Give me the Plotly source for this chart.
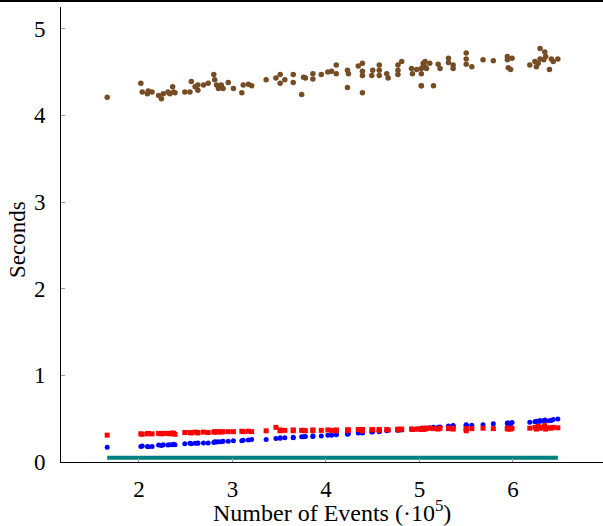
import plotly.graph_objects as go

# Number of events (x 10^5)
events = [1.66, 2.02, 2.035, 2.09, 2.10, 2.14, 2.21, 2.24, 2.26, 2.31, 2.33, 2.36, 2.37, 2.385,
          2.49, 2.545, 2.56, 2.60, 2.63, 2.63, 2.69, 2.74,
          2.80, 2.81, 2.83, 2.85, 2.88, 2.90, 2.955, 3.01, 3.10, 3.115, 3.17, 3.205,
          3.36, 3.465, 3.51, 3.51, 3.56, 3.65, 3.65, 3.74, 3.76, 3.78, 3.86, 3.86, 3.95,
          4.02, 4.06, 4.11, 4.11, 4.23, 4.23, 4.24, 4.345, 4.39, 4.39, 4.39, 4.39, 4.49, 4.50,
          4.57, 4.57, 4.57, 4.65, 4.665, 4.77, 4.77, 4.77, 4.81, 4.915, 4.925, 4.97,
          5.02, 5.02, 5.04, 5.06, 5.06, 5.04, 5.075, 5.02, 5.11, 5.02, 5.15, 5.20, 5.22,
          5.31, 5.31, 5.36, 5.36, 5.50, 5.50, 5.50, 5.56, 5.68, 5.79,
          5.94, 5.94, 5.99, 5.95, 5.975,
          6.18, 6.235, 6.25, 6.29, 6.29, 6.33, 6.34, 6.35, 6.39, 6.41, 6.43, 6.48, 6.27]

brown_sec = [4.21, 4.37, 4.27, 4.25, 4.28, 4.27, 4.23, 4.19, 4.25, 4.27, 4.25, 4.33, 4.27, 4.26,
             4.27, 4.27, 4.39, 4.33, 4.35, 4.29, 4.35, 4.37,
             4.47, 4.41, 4.35, 4.31, 4.35, 4.31, 4.38, 4.31, 4.26, 4.35, 4.36, 4.34,
             4.41, 4.43, 4.47, 4.37, 4.41, 4.47, 4.38, 4.24, 4.44, 4.43, 4.48, 4.42, 4.47,
             4.50, 4.51, 4.58, 4.48, 4.52, 4.32, 4.48, 4.57, 4.60, 4.51, 4.46, 4.26, 4.46, 4.52,
             4.58, 4.52, 4.46, 4.48, 4.43, 4.58, 4.52, 4.47, 4.62, 4.54, 4.48, 4.53,
             4.54, 4.34, 4.60, 4.56, 4.62, 4.56, 4.54, 4.48, 4.60, 4.34, 4.34, 4.59, 4.54,
             4.66, 4.61, 4.58, 4.54, 4.72, 4.65, 4.59, 4.56, 4.64, 4.63,
             4.68, 4.64, 4.66, 4.55, 4.53,
             4.58, 4.62, 4.56, 4.77, 4.65, 4.64, 4.73, 4.68, 4.53, 4.65, 4.62, 4.65, 4.60]

blue_sec = [0.17,
            0.18, 0.185, 0.18, 0.175, 0.18, 0.195, 0.19, 0.20, 0.195, 0.20, 0.20, 0.205, 0.20,
            0.21, 0.215, 0.21, 0.215, 0.22, 0.215, 0.22, 0.22,
            0.225, 0.235, 0.23, 0.235, 0.235, 0.24, 0.24, 0.245, 0.245, 0.25, 0.255, 0.26,
            0.26, 0.27, 0.28, 0.275, 0.28, 0.285, 0.28, 0.29, 0.29, 0.295, 0.30, 0.295, 0.30,
            0.31, 0.31, 0.32, 0.315, 0.325, 0.32, 0.33, 0.335, 0.34, 0.335, 0.34, 0.34, 0.345, 0.35,
            0.355, 0.35, 0.36, 0.36, 0.365, 0.37, 0.365, 0.375, 0.37, 0.38, 0.375, 0.38,
            0.385, 0.38, 0.39, 0.385, 0.39, 0.385, 0.39, 0.39, 0.395, 0.385, 0.40, 0.40, 0.405,
            0.41, 0.415, 0.415, 0.42, 0.42, 0.43, 0.425, 0.425, 0.43, 0.44,
            0.445, 0.45, 0.455, 0.45, 0.44,
            0.46, 0.465, 0.47, 0.48, 0.47, 0.475, 0.485, 0.48, 0.475, 0.48, 0.49, 0.495, 0.47]

red_sec = [0.31,
           0.325, 0.32, 0.325, 0.33, 0.325, 0.33, 0.325, 0.33, 0.33, 0.325, 0.335, 0.33, 0.32,
           0.34, 0.34, 0.335, 0.345, 0.34, 0.335, 0.345, 0.34,
           0.345, 0.35, 0.345, 0.35, 0.345, 0.35, 0.35, 0.35, 0.355, 0.35, 0.355, 0.35,
           0.36, 0.40, 0.37, 0.36, 0.365, 0.37, 0.36, 0.365, 0.365, 0.36, 0.37, 0.36, 0.365,
           0.37, 0.365, 0.37, 0.36, 0.37, 0.365, 0.37, 0.375, 0.37, 0.365, 0.375, 0.36, 0.37, 0.375,
           0.37, 0.375, 0.365, 0.375, 0.37, 0.38, 0.375, 0.37, 0.38, 0.38, 0.375, 0.38,
           0.385, 0.375, 0.39, 0.38, 0.385, 0.375, 0.39, 0.38, 0.39, 0.38, 0.385, 0.38, 0.39,
           0.385, 0.39, 0.38, 0.39, 0.385, 0.36, 0.38, 0.385, 0.39, 0.385,
           0.39, 0.385, 0.39, 0.38, 0.38,
           0.39, 0.40, 0.38, 0.40, 0.39, 0.395, 0.42, 0.38, 0.395, 0.39, 0.40, 0.395, 0.41]

teal_x = [1.66, 6.48]
teal_sec = [0.05, 0.05]

x_ticks = [2, 3, 4, 5, 6]
y_ticks = [0, 1, 2, 3, 4, 5]

x_title = "Number of Events (·10<sup>5</sup>)"
y_title = "Seconds"

FONT = "Liberation Serif"
W, H = 603, 526
L, R, T, B = 61, 0, 7, 64
PW, PH = W - L - R, H - T - B

fig = go.Figure()
fig.add_trace(go.Scatter(x=events, y=blue_sec, mode="markers",
                         marker=dict(symbol="circle", size=5, color="#0000ff", line=dict(width=0))))
fig.add_trace(go.Scatter(x=events, y=red_sec, mode="markers",
                         marker=dict(symbol="square", size=5, color="#ff0000", line=dict(width=0))))
fig.add_trace(go.Scatter(x=events, y=brown_sec, mode="markers",
                         marker=dict(symbol="circle", size=5.5, color="#754c24", line=dict(width=0))))
fig.add_trace(go.Scatter(x=teal_x, y=teal_sec, mode="lines",
                         line=dict(color="#008080", width=4)))

axis_common = dict(showgrid=False, zeroline=False, showline=True, linecolor="black", linewidth=1,
                   ticks="inside", ticklen=4, tickcolor="#999999", tickwidth=1,
                   tickfont=dict(family=FONT, size=23, color="black"), automargin=False)

fig.update_layout(
    width=W, height=H,
    margin=dict(l=L, r=R, t=T, b=B, autoexpand=False),
    paper_bgcolor="white", plot_bgcolor="white",
    showlegend=False,
    font=dict(family=FONT, size=23, color="black"),
    xaxis=dict(range=[1.166, 6.963], tickvals=x_ticks, ticktext=[str(v) for v in x_ticks],
               ticklabelstandoff=6, **axis_common),
    yaxis=dict(range=[0, 5.25], tickvals=y_ticks, ticktext=[str(v) for v in y_ticks],
               ticklabelstandoff=10, **axis_common),
)
fig.add_annotation(text=x_title, xref="paper", yref="paper", x=(332 - L) / PW, y=-(511 - T - PH) / PH,
                   showarrow=False, xanchor="center", yanchor="middle",
                   font=dict(family=FONT, size=24, color="black"))
fig.add_annotation(text=y_title, xref="paper", yref="paper", x=-(L - 18) / PW, y=(H - B - 240) / PH,
                   showarrow=False, xanchor="center", yanchor="middle", textangle=-90,
                   font=dict(family=FONT, size=23, color="black"))
# top border line of the picture
fig.add_shape(type="line", xref="paper", yref="paper", x0=-L / PW, x1=1.0,
              y0=1 + 6 / PH, y1=1 + 6 / PH, line=dict(color="black", width=2))

fig.write_html("out.html", config={"displayModeBar": False},
               post_script="document.body.style.margin='0';document.body.style.overflow='hidden';")
